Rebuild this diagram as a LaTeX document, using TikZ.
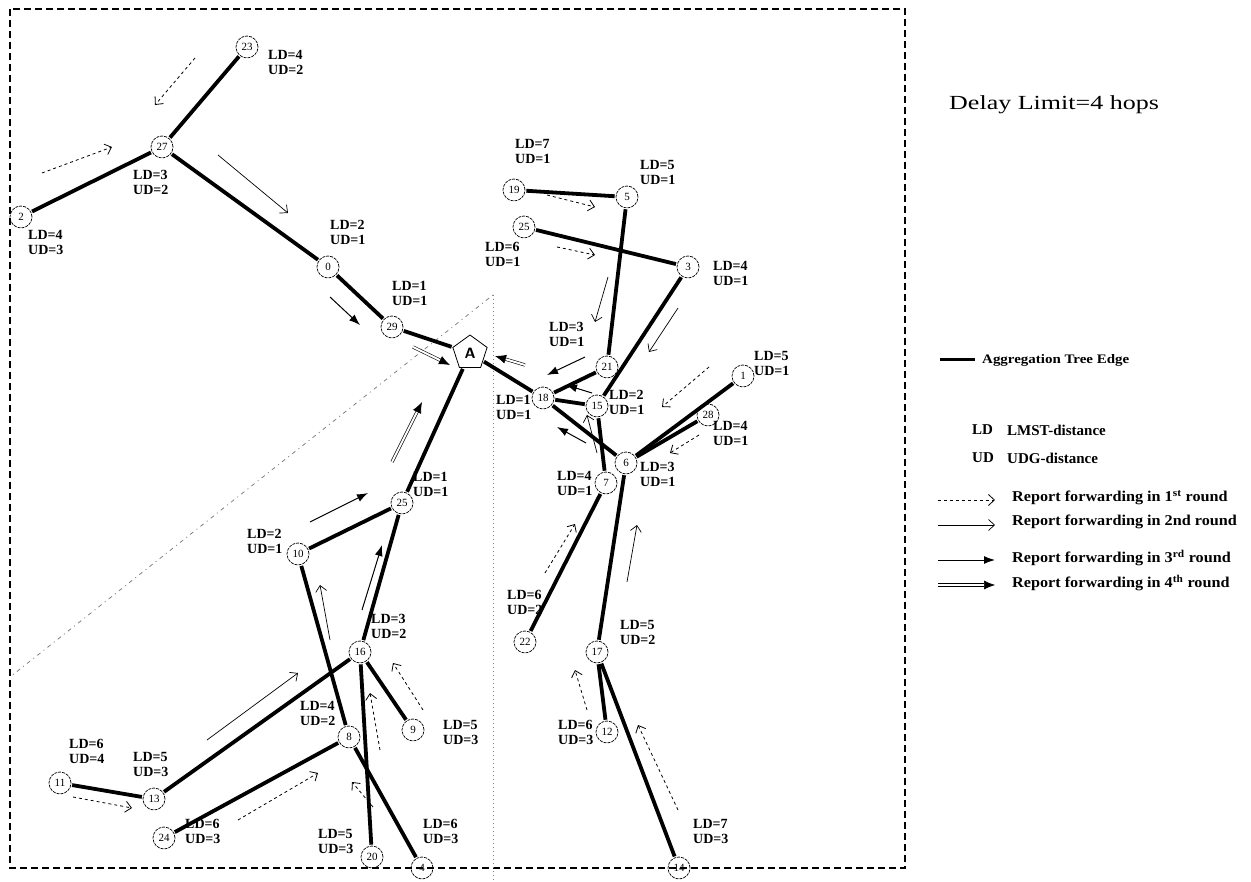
\documentclass[tikz,border=0pt]{standalone}
\usepackage{fontspec}
\setmainfont{Liberation Serif}
\usetikzlibrary{shapes.geometric,arrows.meta}
\tikzset{
  nd/.style={circle,draw,line width=0.7pt,dash pattern=on 3pt off 1pt,minimum size=22pt,inner sep=0pt,font=\fontsize{11}{11}\selectfont},
  lbl/.style={font=\fontsize{14}{15.5}\selectfont\bfseries,align=left,inner sep=0pt,anchor=north west},
  tedge/.style={line width=3.8pt,shorten <=1pt,shorten >=1pt},
  rone/.style={line width=0.8pt,dash pattern=on 3pt off 3pt,-{Straight Barb[length=6pt,width=11pt]}},
  rtwo/.style={line width=0.7pt,-{Straight Barb[length=6pt,width=11pt]}},
  rthree/.style={line width=1pt,-{Latex[length=11pt,width=8pt]}},
  rfour/.style={line width=0.6pt,double,double distance=2pt,-{Latex[length=11pt,width=9pt]}},
  legtxt/.style={font=\fontsize{15}{15}\selectfont\bfseries,anchor=west,inner sep=0pt},
}
\begin{document}
\begin{tikzpicture}[x=1pt,y=-1pt]
\useasboundingbox (0,0) rectangle (1251,882);
% frame and region lines
\draw[line width=1.5pt,dash pattern=on 7pt off 4pt] (10,9) rectangle (905,868);
\coordinate (apex) at (493,295);
\coordinate (vbot) at (493,882);
\coordinate (dleft) at (10,677);
\draw[line width=0.8pt,gray,dash pattern=on 1pt off 3pt] (apex) -- (vbot);
\draw[line width=0.8pt,gray,dash pattern=on 1pt off 4pt on 4pt off 4pt] (apex) -- (dleft);

% nodes
\node[nd] (n23) at (247,47) {23};
\node[nd] (n27) at (162,147) {27};
\node[nd] (n2) at (21,217) {2};
\node[nd] (n0) at (328,267) {0};
\node[nd] (n29) at (392,327) {29};
\node[regular polygon,regular polygon sides=5,draw,line width=0.8pt,minimum size=36pt,inner sep=0pt,font=\fontsize{15}{15}\selectfont\sffamily\bfseries] (A) at (470,353) {A};
\node[nd] (n19) at (514,190) {19};
\node[nd] (n5) at (627,197) {5};
\node[nd] (n25a) at (524,227) {25};
\node[nd] (n3) at (688,267) {3};
\node[nd] (n21) at (607,367) {21};
\node[nd] (n18) at (543,398) {18};
\node[nd] (n15) at (597,406) {15};
\node[nd] (n1) at (743,376) {1};
\node[nd] (n28) at (708,415) {28};
\node[nd] (n6) at (626,463) {6};
\node[nd] (n7) at (606,483) {7};
\node[nd] (n25b) at (402,503) {25};
\node[nd] (n10) at (298,554) {10};
\node[nd] (n16) at (360,652) {16};
\node[nd] (n9) at (413,730) {9};
\node[nd] (n8) at (349,737) {8};
\node[nd] (n11) at (60,783) {11};
\node[nd] (n13) at (154,799) {13};
\node[nd] (n24) at (164,838) {24};
\node[nd] (n20) at (372,857) {20};
\node[nd] (n4) at (422,868) {4};
\node[nd] (n22) at (525,642) {22};
\node[nd] (n17) at (597,652) {17};
\node[nd] (n12) at (607,732) {12};
\node[nd] (n14) at (679,868) {14};

% labels
\node[lbl] (l23) at (268,50) {LD=4\\UD=2};
\node[lbl] (l27) at (133,170) {LD=3\\UD=2};
\node[lbl] (l2) at (28,230) {LD=4\\UD=3};
\node[lbl] (l0) at (330,220) {LD=2\\UD=1};
\node[lbl] (l29) at (392,281) {LD=1\\UD=1};
\node[lbl] (l19) at (515,139) {LD=7\\UD=1};
\node[lbl] (l5) at (640,160) {LD=5\\UD=1};
\node[lbl] (l25a) at (485,242) {LD=6\\UD=1};
\node[lbl] (l3) at (713,261) {LD=4\\UD=1};
\node[lbl] (l21) at (549,322) {LD=3\\UD=1};
\node[lbl] (l18) at (496,395) {LD=1\\UD=1};
\node[lbl] (l15) at (609,390) {LD=2\\UD=1};
\node[lbl] (l1) at (754,351) {LD=5\\UD=1};
\node[lbl] (l28) at (713,421) {LD=4\\UD=1};
\node[lbl] (l6) at (640,462) {LD=3\\UD=1};
\node[lbl] (l7) at (557,471) {LD=4\\UD=1};
\node[lbl] (l25b) at (413,472) {LD=1\\UD=1};
\node[lbl] (l10) at (247,529) {LD=2\\UD=1};
\node[lbl] (l16) at (371,614) {LD=3\\UD=2};
\node[lbl] (l9) at (443,720) {LD=5\\UD=3};
\node[lbl] (l8) at (300,701) {LD=4\\UD=2};
\node[lbl] (l11) at (69,739) {LD=6\\UD=4};
\node[lbl] (l13) at (133,752) {LD=5\\UD=3};
\node[lbl] (l24) at (185,819) {LD=6\\UD=3};
\node[lbl] (l20) at (318,829) {LD=5\\UD=3};
\node[lbl] (l4) at (423,819) {LD=6\\UD=3};
\node[lbl] (l22) at (507,590) {LD=6\\UD=2};
\node[lbl] (l17) at (620,620) {LD=5\\UD=2};
\node[lbl] (l12) at (558,720) {LD=6\\UD=3};
\node[lbl] (l14) at (693,819) {LD=7\\UD=3};

% aggregation tree edges
\draw[tedge] (n23) -- (n27);
\draw[tedge] (n27) -- (n2);
\draw[tedge] (n27) -- (n0);
\draw[tedge] (n0) -- (n29);
\draw[tedge] (n29) -- (A);
\draw[tedge] (n19) -- (n5);
\draw[tedge] (n5) -- (n21);
\draw[tedge] (n25a) -- (n3);
\draw[tedge] (n3) -- (n15);
\draw[tedge] (n21) -- (n18);
\draw[tedge] (n15) -- (n18);
\draw[tedge] (n18) -- (A);
\draw[tedge] (n18) -- (n6);
\draw[tedge] (n1) -- (n6);
\draw[tedge] (n28) -- (n6);
\draw[tedge] (n15) -- (n7);
\draw[tedge] (n7) -- (n22);
\draw[tedge] (n6) -- (n17);
\draw[tedge] (n17) -- (n12);
\draw[tedge] (n17) -- (n14);
\draw[tedge] (A) -- (n25b);
\draw[tedge] (n25b) -- (n10);
\draw[tedge] (n25b) -- (n16);
\draw[tedge] (n10) -- (n8);
\draw[tedge] (n16) -- (n13);
\draw[tedge] (n16) -- (n9);
\draw[tedge] (n16) -- (n20);
\draw[tedge] (n13) -- (n11);
\draw[tedge] (n8) -- (n24);
\draw[tedge] (n8) -- (n4);

% report forwarding, 1st round
\draw[rone] (195,58) coordinate (a1s) -- (155,105) coordinate (a1e);
\draw[rone] (42,173) coordinate (a2s) -- (112,147) coordinate (a2e);
\draw[rone] (547,195) coordinate (a3s) -- (595,207) coordinate (a3e);
\draw[rone] (557,247) coordinate (a4s) -- (595,255) coordinate (a4e);
\draw[rone] (709,367) coordinate (a5s) -- (662,407) coordinate (a5e);
\draw[rone] (699,435) coordinate (a6s) -- (670,453) coordinate (a6e);
\draw[rone] (545,573) coordinate (a7s) -- (575,524) coordinate (a7e);
\draw[rone] (587,710) coordinate (a8s) -- (575,670) coordinate (a8e);
\draw[rone] (678,810) coordinate (a9s) -- (638,725) coordinate (a9e);
\draw[rone] (73,797) coordinate (a10s) -- (132,808) coordinate (a10e);
\draw[rone] (238,820) coordinate (a11s) -- (318,773) coordinate (a11e);
\draw[rone] (423,710) coordinate (a12s) -- (393,663) coordinate (a12e);
\draw[rone] (380,750) coordinate (a13s) -- (370,693) coordinate (a13e);
\draw[rone] (373,807) coordinate (a14s) -- (352,782) coordinate (a14e);
% 2nd round
\draw[rtwo] (218,155) coordinate (b1s) -- (288,213) coordinate (b1e);
\draw[rtwo] (608,277) coordinate (b2s) -- (595,322) coordinate (b2e);
\draw[rtwo] (678,308) coordinate (b3s) -- (649,352) coordinate (b3e);
\draw[rtwo] (627,582) coordinate (b4s) -- (637,525) coordinate (b4e);
\draw[rtwo] (330,640) coordinate (b5s) -- (320,585) coordinate (b5e);
\draw[rtwo] (207,740) coordinate (b6s) -- (298,673) coordinate (b6e);
\draw[rtwo] (597,453) coordinate (b7s) -- (587,415) coordinate (b7e);
% 3rd round
\draw[rthree] (330,297) coordinate (c1s) -- (360,325) coordinate (c1e);
\draw[rthree] (585,357) coordinate (c2s) -- (547,375) coordinate (c2e);
\draw[rthree] (592,393) coordinate (c3s) -- (566,385) coordinate (c3e);
\draw[rthree] (586,443) coordinate (c4s) -- (557,427) coordinate (c4e);
\draw[rthree] (310,522) coordinate (c5s) -- (368,493) coordinate (c5e);
\draw[rthree] (362,610) coordinate (c6s) -- (382,545) coordinate (c6e);
% 4th round
\draw[rfour] (413,347) coordinate (d1s) -- (450,365) coordinate (d1e);
\draw[rfour] (525,365) coordinate (d2s) -- (495,356) coordinate (d2e);
\draw[rfour] (392,462) coordinate (d3s) -- (422,402) coordinate (d3e);

% legend
\node[anchor=west,inner sep=0pt,font=\fontsize{20}{20}\selectfont] (title) at (949,105) {\scalebox{1.3}[1]{Delay Limit=4 hops}};
\coordinate (g0a) at (940,360);
\coordinate (g0b) at (975,360);
\draw[line width=3pt] (g0a) -- (g0b);
\node[anchor=west,inner sep=0pt,font=\fontsize{13}{13}\selectfont\bfseries] (gt) at (982,360) {\scalebox{1.15}[1]{Aggregation Tree Edge}};
\node[legtxt] (ld) at (972,430) {LD};
\node[legtxt] (ldt) at (1007,430) {LMST-distance};
\node[legtxt] (ud) at (972,458) {UD};
\node[legtxt] (udt) at (1007,458) {UDG-distance};
\coordinate (k1a) at (938,500); \coordinate (k1b) at (995,500);
\coordinate (k2a) at (938,525); \coordinate (k2b) at (995,525);
\coordinate (k3a) at (938,560); \coordinate (k3b) at (995,560);
\coordinate (k4a) at (938,585); \coordinate (k4b) at (995,585);
\draw[rone] (k1a) -- (k1b);
\draw[rtwo] (k2a) -- (k2b);
\draw[rthree] (k3a) -- (k3b);
\draw[rfour] (k4a) -- (k4b);
\node[legtxt] (t1) at (1012,498) {\scalebox{1.08}[1]{Report forwarding in 1\textsuperscript{st} round}};
\node[legtxt] (t2) at (1012,522) {\scalebox{1.08}[1]{Report forwarding in 2nd round}};
\node[legtxt] (t3) at (1012,558) {\scalebox{1.08}[1]{Report forwarding in 3\textsuperscript{rd} round}};
\node[legtxt] (t4) at (1012,583) {\scalebox{1.08}[1]{Report forwarding in 4\textsuperscript{th} round}};
\end{tikzpicture}
\end{document}
